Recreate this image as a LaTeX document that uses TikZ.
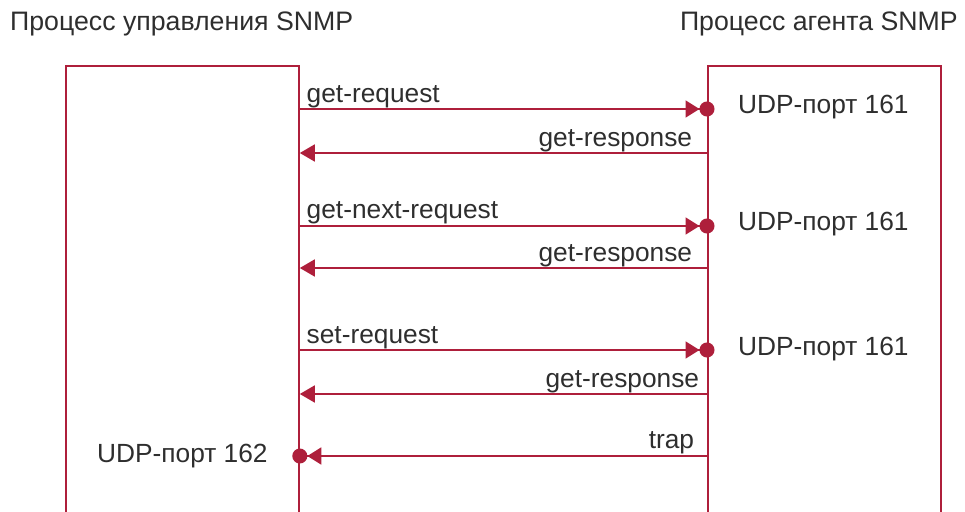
\documentclass[tikz,border=0pt]{standalone}
\usepackage{fontspec}
\setmainfont{Liberation Sans}
\usetikzlibrary{positioning,arrows.meta}
\definecolor{snmpred}{HTML}{AE1F3B}
\definecolor{snmptext}{HTML}{2E2E2E}
\tikzset{
    box/.style={draw=snmpred, line width=1.8pt, minimum width=233pt,
        minimum height=480pt, anchor=north west, inner sep=0pt},
    msg/.style={draw=snmpred, line width=1.8pt},
    porttip/.style={-{Triangle[length=14pt,width=17pt]Circle[length=15pt]},
        shorten >=-7.5pt},
    req/.style={msg, porttip},
    resp/.style={msg, -{Triangle[length=15pt,width=17pt]}},
    txt/.style={text=snmptext, font=\fontsize{26.3}{30}\selectfont, inner sep=0pt},
    title/.style={txt, font=\fontsize{26.7}{30}\selectfont}
}

\begin{document}
\begin{tikzpicture}[x=1pt, y=-1pt]
\useasboundingbox (0,0) rectangle (965,511);

\node[title, anchor=base west] (mgrtitle) at (10,31) {Процесс управления SNMP};
\node[title, anchor=base east] (agttitle) at (958,31) {Процесс агента SNMP};
\node[box] (mgr) at (65,65) {};
\node[box] (agt) at (707,65) {};

% message rows
\coordinate (r1) at (0,109);
\coordinate (s1) at (0,153);
\coordinate (r2) at (0,226);
\coordinate (s2) at (0,268);
\coordinate (r3) at (0,350);
\coordinate (s3) at (0,394);
\coordinate (tr) at (0,456);

% get / set requests
\draw[req] (mgr.east |- r1) -- (agt.west |- r1)
    node[txt, pos=0, anchor=base west, xshift=6pt, yshift=7pt] (getreq) {get-request};
\draw[resp] (agt.west |- s1) -- (mgr.east |- s1)
    node[txt, pos=0, anchor=base east, xshift=-14pt, yshift=7pt] (getresp1) {get-response};
\draw[req] (mgr.east |- r2) -- (agt.west |- r2)
    node[txt, pos=0, anchor=base west, xshift=6pt, yshift=8pt] (getnext) {get-next-request};
\draw[resp] (agt.west |- s2) -- (mgr.east |- s2)
    node[txt, pos=0, anchor=base east, xshift=-14pt, yshift=7pt] (getresp2) {get-response};
\draw[req] (mgr.east |- r3) -- (agt.west |- r3)
    node[txt, pos=0, anchor=base west, xshift=6pt, yshift=7pt] (setreq) {set-request};
\draw[resp] (agt.west |- s3) -- (mgr.east |- s3)
    node[txt, pos=0, anchor=base east, xshift=-7pt, yshift=7pt] (getresp3) {get-response};

% trap
\draw[msg, porttip] (agt.west |- tr) -- (mgr.east |- tr)
    node[txt, pos=0, anchor=base east, xshift=-12pt, yshift=8pt] (trap) {trap};

% ports
\coordinate (p1) at (agt.west |- r1);
\coordinate (p2) at (agt.west |- r2);
\coordinate (p3) at (agt.west |- r3);
\coordinate (p4) at (mgr.east |- tr);
\node[txt, right=31pt of p1, anchor=base west, yshift=-4pt] (port1) {UDP-порт 161};
\node[txt, right=31pt of p2, anchor=base west, yshift=-4pt] (port2) {UDP-порт 161};
\node[txt, right=31pt of p3, anchor=base west, yshift=-5pt] (port3) {UDP-порт 161};
\node[txt, left=32pt of p4, anchor=base east, yshift=-6pt] (port4) {UDP-порт 162};
\end{tikzpicture}
\end{document}
